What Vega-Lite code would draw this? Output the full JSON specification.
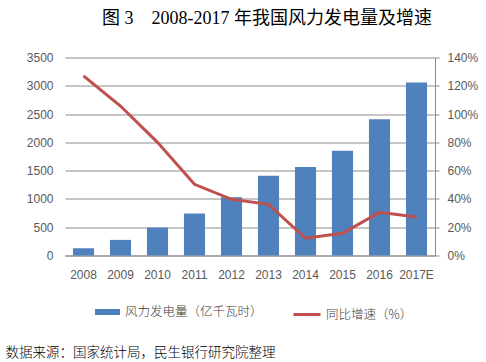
{
  "$schema": "https://vega.github.io/schema/vega-lite/v6.json",
  "width": 370,
  "height": 198,
  "autosize": "none",
  "padding": {"left": 65, "top": 57.5, "right": 51, "bottom": 106.5},
  "background": "white",
  "config": {"view": {"stroke": null}, "font": "Liberation Sans"},
  "title": {
    "text": "图\u00a03\u00a0\u00a0\u00a0\u00a02008-2017\u00a0年我国风力发电量及增速",
    "font": "Liberation Serif, Noto Sans CJK SC",
    "fontSize": 18,
    "fontWeight": "normal",
    "color": "#000000",
    "anchor": "middle",
    "dx": 17,
    "offset": 24
  },
  "data": {
    "values": [
      {"year": "2008", "gen": 128, "growth": 1.27},
      {"year": "2009", "gen": 276, "growth": 1.057},
      {"year": "2010", "gen": 494, "growth": 0.80},
      {"year": "2011", "gen": 741, "growth": 0.503},
      {"year": "2012", "gen": 1030, "growth": 0.397},
      {"year": "2013", "gen": 1410, "growth": 0.362},
      {"year": "2014", "gen": 1563, "growth": 0.122},
      {"year": "2015", "gen": 1851, "growth": 0.157},
      {"year": "2016", "gen": 2410, "growth": 0.305},
      {"year": "2017E", "gen": 3057, "growth": 0.272}
    ]
  },
  "encoding": {
    "x": {
      "field": "year",
      "type": "ordinal",
      "sort": null,
      "scale": {"paddingInner": 0.43, "paddingOuter": 0.215},
      "axis": {
        "title": "数据来源：国家统计局，民生银行研究院整理",
        "titleFont": "Noto Sans CJK SC",
        "titleFontSize": 13.5,
        "titleFontWeight": 300,
        "titleColor": "#000000",
        "titleAnchor": "start",
        "titleAlign": "left",
        "titleBaseline": "middle",
        "titleX": -60,
        "titleY": 96.5,
        "labelAngle": 0,
        "labelFontSize": 12,
        "labelColor": "#595959",
        "labelPadding": 14,
        "ticks": false,
        "tickSize": 0,
        "domainColor": "#8c8c8c",
        "grid": false
      }
    }
  },
  "layer": [
    {
      "mark": {"type": "bar"},
      "encoding": {
        "y": {
          "field": "gen",
          "type": "quantitative",
          "scale": {"domain": [0, 3500]},
          "axis": {
            "title": null,
            "format": "d",
            "values": [0, 500, 1000, 1500, 2000, 2500, 3000, 3500],
            "domain": false,
            "ticks": false,
            "labelPadding": 12,
            "labelFontSize": 12,
            "labelColor": "#595959",
            "gridColor": "#8c8c8c",
            "gridWidth": 1
          }
        },
        "fill": {
          "datum": "风力发电量（亿千瓦时）",
          "scale": {"range": ["#4F81BD"]},
          "legend": {
            "title": null,
            "orient": "none",
            "legendX": 30,
            "legendY": 242,
            "padding": 0,
            "symbolType": "M-1,-0.24H1V0.24H-1Z",
            "symbolSize": 625,
            "symbolStrokeWidth": 0,
            "symbolOpacity": 1,
            "labelFont": "Noto Sans CJK SC",
            "labelFontSize": 12.5,
            "labelFontWeight": 300,
            "labelColor": "#404040",
            "labelOffset": 5
          }
        }
      }
    },
    {
      "mark": {"type": "line", "strokeWidth": 3},
      "encoding": {
        "y": {
          "field": "growth",
          "type": "quantitative",
          "scale": {"domain": [0, 1.4]},
          "axis": {
            "title": null,
            "orient": "right",
            "format": ".0%",
            "values": [0, 0.2, 0.4, 0.6, 0.8, 1.0, 1.2, 1.4],
            "grid": false,
            "domainColor": "#8c8c8c",
            "tickColor": "#8c8c8c",
            "tickSize": 4,
            "labelPadding": 8,
            "labelFontSize": 12,
            "labelColor": "#595959"
          }
        },
        "stroke": {
          "datum": "同比增速（%）",
          "scale": {"range": ["#C0504D"]},
          "legend": {
            "title": null,
            "orient": "none",
            "legendX": 227,
            "legendY": 242,
            "padding": 0,
            "symbolType": "stroke",
            "symbolSize": 729,
            "symbolStrokeWidth": 3,
            "labelFont": "Noto Sans CJK SC",
            "labelFontSize": 12.5,
            "labelFontWeight": 300,
            "labelColor": "#404040",
            "labelOffset": 4
          }
        }
      }
    }
  ],
  "resolve": {"scale": {"y": "independent", "fill": "independent", "stroke": "independent"}}
}
